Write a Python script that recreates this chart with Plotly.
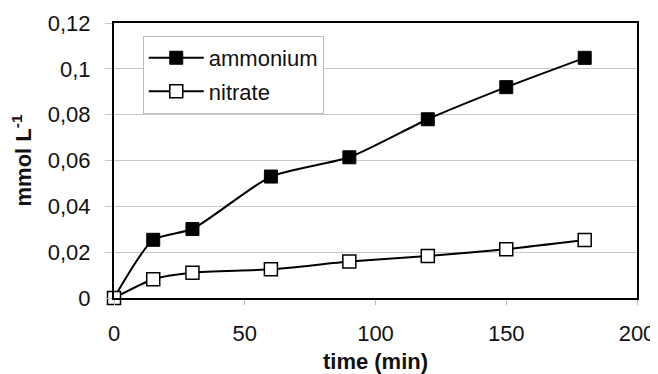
import plotly.graph_objects as go

time_min = [0, 15, 30, 60, 90, 120, 150, 180]
ammonium = [0.0, 0.0254, 0.0301, 0.0530, 0.0614, 0.0780, 0.0920, 0.1048]
nitrate = [0.0, 0.0082, 0.0110, 0.0125, 0.0159, 0.0183, 0.0213, 0.0253]

x_ticks = [0, 50, 100, 150, 200]
y_ticks = [0, 0.02, 0.04, 0.06, 0.08, 0.10, 0.12]

FONT = "Liberation Sans, Arial, sans-serif"

fig = go.Figure()
fig.add_trace(go.Scatter(
    x=time_min, y=ammonium, name="ammonium", mode="lines+markers", legendgroup="a",
    line=dict(color="black", width=2, shape="spline", smoothing=0.6),
    marker=dict(symbol="square", size=13, color="black", line=dict(color="black", width=1)),
    cliponaxis=False,
))
fig.add_trace(go.Scatter(
    x=time_min, y=nitrate, name="nitrate", mode="lines+markers", legendgroup="b",
    line=dict(color="black", width=2, shape="spline", smoothing=0.6),
    marker=dict(symbol="square", size=13, color="white", line=dict(color="black", width=1.5)),
    cliponaxis=False,
))

fig.update_layout(
    width=650, height=366, autosize=False,
    margin=dict(l=106, r=21, t=15, b=76, autoexpand=False),
    paper_bgcolor="white", plot_bgcolor="white",
    separators=", ",
    font=dict(family=FONT, size=22, color="#111"),
    showlegend=True,
    legend=dict(
        x=0.055, y=0.953, xanchor="left", yanchor="top",
        bgcolor="white", bordercolor="#bbbbbb", borderwidth=1,
        font=dict(size=22), tracegroupgap=2, itemwidth=55,
    ),
    xaxis=dict(
        range=[0, 200], tickvals=x_ticks, showgrid=False, zeroline=False, automargin=False,
        showline=True, linecolor="black", linewidth=2, mirror=True,
        ticks="outside", ticklen=5, tickcolor="#bbbbbb", ticklabelstandoff=10,
        title=dict(text="<b>time (min)</b>", font=dict(size=22), standoff=11),
        tickfont=dict(size=22),
    ),
    yaxis=dict(
        range=[0, 0.12], tickvals=y_ticks, showgrid=True, gridcolor="#c8c8c8", gridwidth=1,
        zeroline=False, automargin=False, showline=True, linecolor="black", linewidth=2, mirror=True,
        ticks="outside", ticklen=7, tickcolor="#c8c8c8", ticklabelstandoff=10,
        title=dict(text="<b>mmol L<sup>-1</sup></b>", font=dict(size=22), standoff=12),
        tickfont=dict(size=22),
    ),
)

fig.write_html("out.html")
